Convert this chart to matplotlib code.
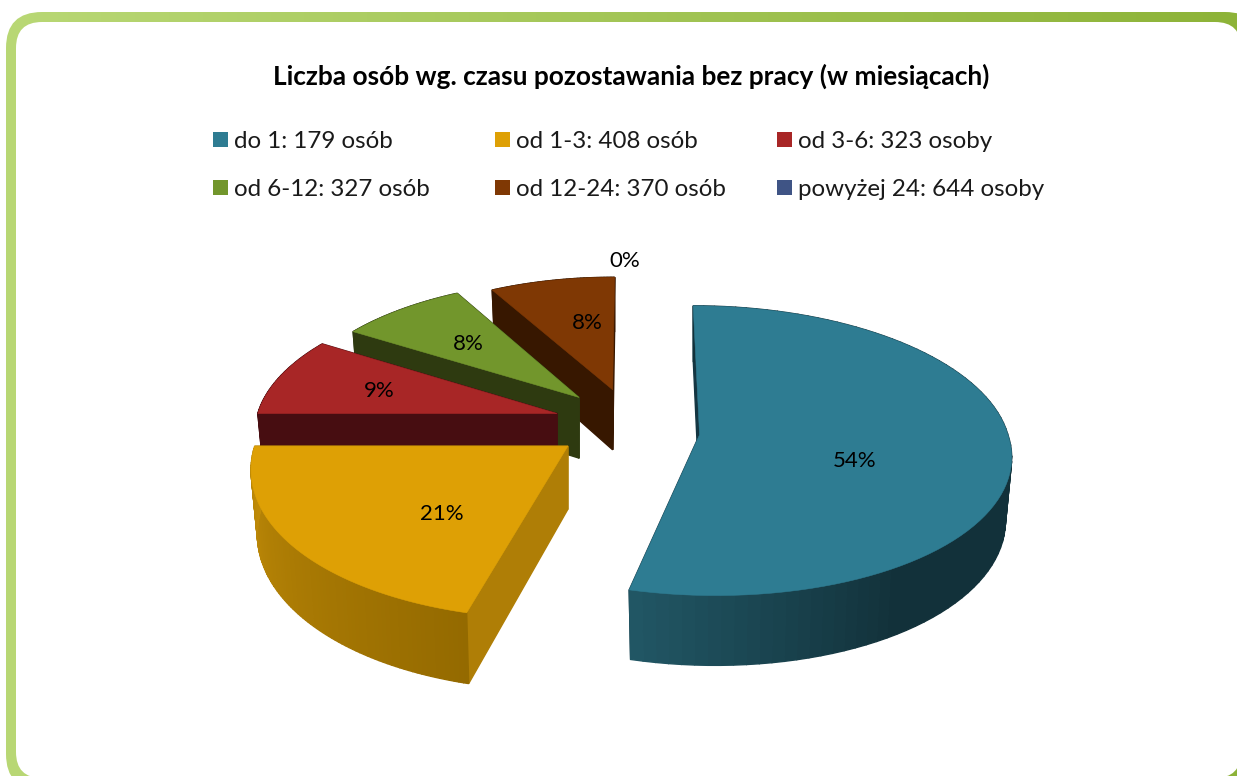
import numpy as np
import matplotlib
matplotlib.use("Agg")
import matplotlib.pyplot as plt
from matplotlib.colors import LinearSegmentedColormap, to_rgb
from matplotlib.patches import FancyBboxPatch, Polygon, Rectangle

# ---- data ----
title = "Liczba osób wg. czasu pozostawania bez pracy (w miesiącach)"
legend_labels = ["do 1: 179 osób", "od 1-3: 408 osób", "od 3-6: 323 osoby",
                 "od 6-12: 327 osób", "od 12-24: 370 osób", "powyżej 24: 644 osoby"]
shares = [54, 21, 9, 8, 8, 0]
share_labels = ["54%", "21%", "9%", "8%", "8%", "0%"]

# ---- style ----
top_colors = ["#2e7c92", "#dea005", "#a82626", "#72962c", "#7f3804", "#3f5485"]
inner_colors = ["#143642", "#af7e06", "#470d11", "#2e3a10", "#371700", "#1f2a42"]
wall_start = ["#215664", "#c08b08", "#470d11", "#2e3a10", "#371700", "#1f2a42"]
wall_end = ["#12313a", "#946a00", "#470d11", "#2e3a10", "#371700", "#1f2a42"]
wall_stop = [0.24, 1.0, 1.0, 1.0, 1.0, 1.0]
explode = [0.21, 0.27, 0.265, 0.27, 0.30, 0.25]
radius = [0.995, 0.995, 0.976, 0.945, 0.92, 1.0]
nudge_y = [9, 0, 2, 3, 8, 0]
front_shear = [0.05, -0.036, 0, 0, 0, 0]
front_stretch = [1.0, 1.04, 1.0, 1.0, 1.0, 1.0]
label_xy = [(855, 461), (442, 514), (379, 391), (468, 344), (587, 323), (625, 261)]
legend_x = [213, 495, 777]
legend_y = [141, 189]

CX, CY, RX, RY, Q, H = 635.0, 422.0, 309.0, 143.0, 0.11, 62.0
WALL_TAPER = 0.98
W, HT = 1237, 776

plt.rcParams["font.family"] = ["Lato", "DejaVu Sans"]
fig = plt.figure(figsize=(W / 100, HT / 100), dpi=100)
ax = fig.add_axes([0, 0, 1, 1])
ax.axis("off")

# frame
cmap = LinearSegmentedColormap.from_list("frame", ["#b9d875", "#8db338"])
img = ax.imshow(np.linspace(0, 1, 256)[None, :], cmap=cmap, aspect="auto",
                extent=(0, W, HT, 0), zorder=0)
outer = FancyBboxPatch((6 + 36, 12 + 36), W + 24 - 6 - 72, HT + 14 - 12 - 72,
                       boxstyle="round,pad=36,rounding_size=36", fc="none", ec="none",
                       transform=ax.transData)
ax.add_patch(outer)
img.set_clip_path(outer)
ax.add_patch(FancyBboxPatch((16 + 26, 22 + 26), W + 4 - 16 - 52, HT + 2 - 22 - 52,
                            boxstyle="round,pad=26,rounding_size=26", fc="white", ec="none",
                            zorder=1))
ax.set_xlim(0, W)
ax.set_ylim(HT, 0)


def project(x, y, z=0.0):
    w = 1 + Q * y
    return CX + RX * x / w, CY - RY * y / w + H * z / w


def mix(a, b, t):
    a, b = np.array(to_rgb(a)), np.array(to_rgb(b))
    return tuple(a + (b - a) * t)


bounds = np.cumsum([0] + shares) / sum(shares) * 2 * np.pi
order = [4, 3, 2, 1, 0]
z = 2
for i in order:
    a0, a1 = bounds[i], bounds[i + 1]
    mid = (a0 + a1) / 2
    ex, ey = explode[i] * np.sin(mid), explode[i] * np.cos(mid)
    th = np.linspace(a0, a1, 90)
    wx, wy = ex + radius[i] * np.sin(th), ey + radius[i] * np.cos(th)
    ax0, ay0 = project(ex, ey)
    bx0, by0 = project(ex, ey, 1.0)

    def shape(px, py):
        front = np.maximum(py - ay0, 0)
        return px + front_shear[i] * front, py + (front_stretch[i] - 1) * front

    tx, ty = shape(*project(wx, wy))
    bx, by = project(wx, wy, 1.0)
    bx, by = shape(bx, by - (by - ty) * 0 )
    # keep the wall height from the plain projection, then pull the lower rim inward
    wall = project(wx, wy, 1.0)[1] - project(wx, wy)[1]
    by = ty + wall
    bx = ax0 + (tx - ax0) * WALL_TAPER
    ty, by = ty + nudge_y[i], by + nudge_y[i]
    ay, byy = ay0 + nudge_y[i], by0 + nudge_y[i]
    # radial walls
    for k in (0, -1):
        ax.add_patch(Polygon([(ax0, ay), (tx[k], ty[k]), (bx[k], by[k]), (bx0, byy)],
                             closed=True, fc=inner_colors[i], ec=inner_colors[i], lw=1.0, zorder=z))
        z += 1
    # rim with horizontal shading, running from the slice's end angle backwards
    for j in range(len(th) - 1):
        t = (len(th) - 2 - j) / (len(th) - 2)
        c = mix(wall_start[i], wall_end[i], min(t / wall_stop[i], 1.0))
        ax.add_patch(Polygon([(tx[j], ty[j]), (tx[j + 1], ty[j + 1]), (bx[j + 1], by[j + 1]), (bx[j], by[j])],
                             closed=True, fc=c, ec=c, lw=1.0, zorder=z))
    z += 1
    # top face
    ax.add_patch(Polygon(np.column_stack([np.r_[ax0, tx], np.r_[ay, ty]]), closed=True,
                         fc=top_colors[i], ec=top_colors[i], lw=0.4, zorder=z))
    z += 1

# texts
TZ = 500
ax.text(631, 76, title, ha="center", va="center", fontsize=18.9, fontweight="bold",
        color="black", zorder=TZ)
for n, lab in enumerate(legend_labels):
    r, c = divmod(n, 3)
    ax.add_patch(Rectangle((legend_x[c], legend_y[r] - 9), 15, 15, fc=top_colors[n], ec="none", zorder=TZ))
    ax.text(legend_x[c] + 21, legend_y[r] + 0.5, lab, ha="left", va="center", fontsize=17.4,
            color="#1a1a1a", zorder=TZ)
for lab, (x, y) in zip(share_labels, label_xy):
    ax.text(x, y, lab, ha="center", va="center", fontsize=16, color="black", zorder=TZ)

fig.savefig("out.png", dpi=100)
